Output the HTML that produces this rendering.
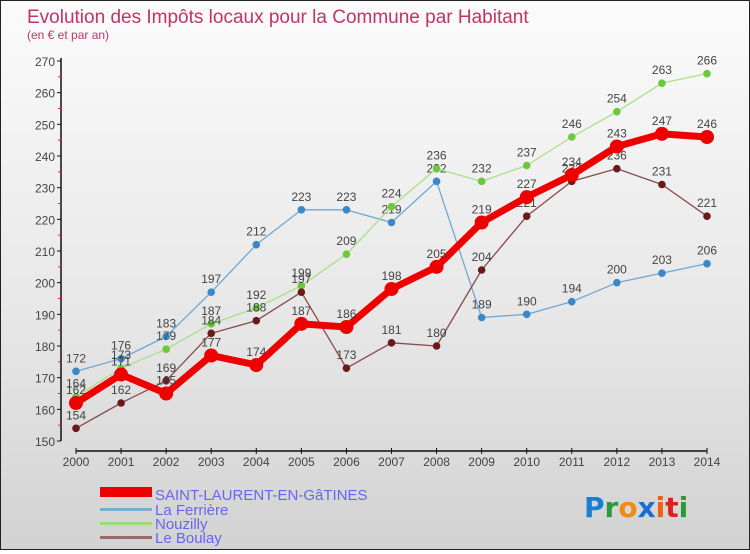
<!DOCTYPE html>
<html><head><meta charset="utf-8">
<style>
html,body{margin:0;padding:0;}
body{width:750px;height:550px;overflow:hidden;font-family:"Liberation Sans",sans-serif;}
#wrap{position:relative;width:748px;height:548px;border:1px solid #222;background:linear-gradient(#fbfbfb 0%,#e6e6e6 60%,#d2d2d2 100%);}
</style></head>
<body>
<div id="wrap">
<svg id="chart" width="748" height="548" xmlns="http://www.w3.org/2000/svg">
<text x="26" y="22" font-size="19" fill="#c03468">Evolution des Impôts locaux pour la Commune par Habitant</text>
<text x="26" y="38" font-size="12" fill="#c03468">(en € et par an)</text>
<g id="axes"></g>
<g id="series"></g>
<g id="legend">
<rect x="99" y="486" width="52" height="10" fill="#ee0000"/>
<text x="154" y="499" font-size="15" fill="#6666ee">SAINT-LAURENT-EN-GâTINES</text>
<rect x="99" y="507" width="52" height="3" fill="#7aaed0"/>
<text x="154" y="514" font-size="15" fill="#6666ee">La Ferrière</text>
<rect x="99" y="521" width="52" height="3" fill="#9edc7a"/>
<text x="154" y="528" font-size="15" fill="#6666ee">Nouzilly</text>
<rect x="99" y="535" width="52" height="3" fill="#9a6a6a"/>
<text x="154" y="542" font-size="15" fill="#6666ee">Le Boulay</text>
</g>
<g font-size="28" font-family="'DejaVu Sans',sans-serif" font-weight="bold">
<text x="583" y="516"><tspan fill="#1a7fd0">P</tspan><tspan fill="#2a9a3a">r</tspan><tspan fill="#f08a10">o</tspan><tspan fill="#1a6fd0">x</tspan><tspan fill="#f06010">i</tspan><tspan fill="#e02020">t</tspan><tspan fill="#2a9a3a">i</tspan></text>
</g>
</svg>
</div>
<script>
const years = [2000,2001,2002,2003,2004,2005,2006,2007,2008,2009,2010,2011,2012,2013,2014];
const saintLaurent = [162,171,165,177,174,187,186,198,205,219,227,234,243,247,246];
const laFerriere = [172,176,183,197,212,223,223,219,232,189,190,194,200,203,206];
const nouzilly = [164,173,179,187,192,199,209,224,236,232,237,246,254,263,266];
const leBoulay = [154,162,169,184,188,197,173,181,180,204,221,232,236,231,221];
const yTicks = [150,160,170,180,190,200,210,220,230,240,250,260,270];

const NS = "http://www.w3.org/2000/svg";
function x(i){ return 75 + i*(706-75)/(years.length-1); }
function y(v){ return 440 - (v-150)*(380/120); }
function mk(tag, attrs, parent){
  const e = document.createElementNS(NS, tag);
  for (const k in attrs) e.setAttribute(k, attrs[k]);
  parent.appendChild(e); return e;
}
const axes = document.getElementById('axes');
const yAxis = mk('line',{x1:60,y1:y(270)-3,x2:60,y2:y(150),stroke:'#111','stroke-width':1.5},axes);


yTicks.forEach(v=>{
  const t = mk('line',{x1:56,y1:y(v),x2:60,y2:y(v),stroke:'#111'},axes);
  
  
  const l = mk('text',{x:54,y:y(v)+5,'font-size':12,fill:'#444','text-anchor':'end'},axes);
  l.textContent = v;
  
  
  if (v<270){
    const m = mk('line',{x1:57,y1:y(v+5),x2:60,y2:y(v+5),stroke:'#e22'},axes);
    
    
  }
});
const xAxis = mk('line',{x1:x(0),y1:450,x2:x(years.length-1),y2:450,stroke:'#111','stroke-width':1.5},axes);


years.forEach((yr,i)=>{
  const t = mk('line',{x1:x(i),y1:447,x2:x(i),y2:453,stroke:'#111'},axes);
  
  
  const l = mk('text',{x:x(i),y:465,'font-size':12,fill:'#444','text-anchor':'middle'},axes);
  l.textContent = yr;
  
  
});
const seriesG = document.getElementById('series');
function draw(vals, name, color, dot, width, r){
  const g = mk('g',{},seriesG);
  
  
  const pts = vals.map((v,i)=>x(i)+','+y(v)).join(' ');
  const pl = mk('polyline',{points:pts,fill:'none',stroke:color,'stroke-width':width,'stroke-linejoin':'round'},g);
  
  
  vals.forEach((v,i)=>{
    const c = mk('circle',{cx:x(i),cy:y(v),r:r,fill:dot},g);
    
    
    const l = mk('text',{x:x(i),y:y(v)-9,'font-size':12,fill:'#444','text-anchor':'middle'},g);
    l.textContent = v;
    
    
  });
}
draw(laFerriere,'la-ferriere','#6fa8d4','#3a88c8',1.3,3.8);
draw(nouzilly,'nouzilly','#a8e088','#6cc83c',1.3,3.8);
draw(leBoulay,'le-boulay','#8a4a4a','#6a1a1a',1.3,3.8);
draw(saintLaurent,'saint-laurent','#ee0000','#ee0000',7,7);
</script>
</body></html>
